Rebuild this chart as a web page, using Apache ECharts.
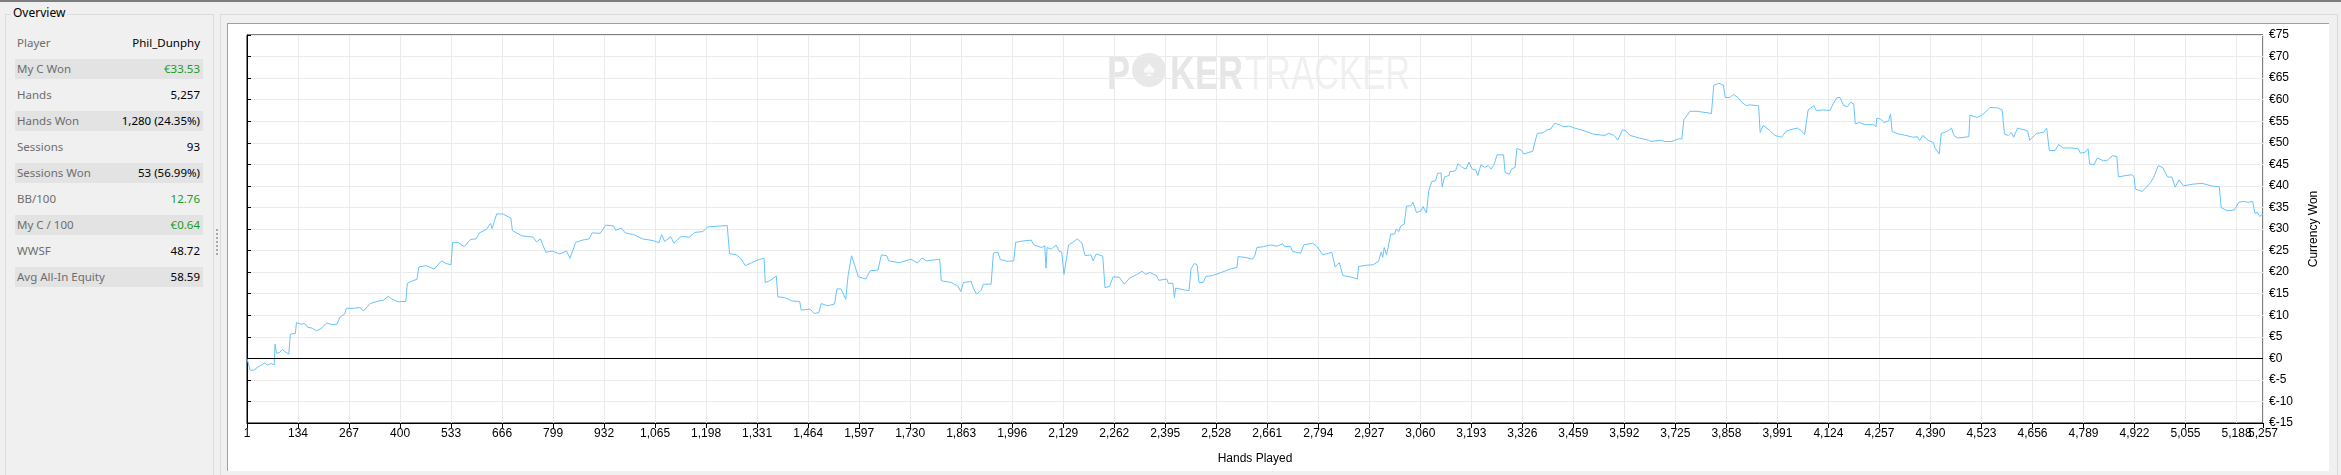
<!DOCTYPE html>
<html><head><meta charset="utf-8">
<script src="https://cdn.jsdelivr.net/npm/echarts@6/dist/echarts.min.js"></script>
<style>
html,body{margin:0;padding:0;width:2341px;height:475px;background:#f0f0f0;overflow:hidden;font-family:'Noto Sans',sans-serif;}
#topline{position:absolute;left:0;top:0;width:2341px;height:2px;background:#7d7d7d;}
#group{position:absolute;left:5px;top:14px;width:207px;height:470px;border:1px solid #dcdcdc;}
#grouptitle{position:absolute;left:11px;top:6px;font-size:12px;line-height:14px;color:#000;background:#f0f0f0;padding:0 2px;}
.row{position:absolute;left:15px;width:188px;height:20px;font-size:11.5px;line-height:20px;white-space:nowrap;}
.row.sh{background:#e3e3e3}
.row .l{position:absolute;left:2px;color:#6d6d6d}
.row .v{position:absolute;right:3px;color:#000}
.row .g{color:#1c9c1c}
#dots{position:absolute;left:216px;top:229px;width:0;height:26px;border-left:2px dotted #a8a8a8;}
#outer{position:absolute;left:220px;top:14px;width:2116px;height:470px;border:1px solid #dcdcdc;}
#panel{position:absolute;left:227px;top:23px;width:2101px;height:447px;background:#fff;border-top:1px solid #a0a0a0;border-left:1px solid #a0a0a0;}
#chart{position:absolute;left:0;top:0;width:2341px;height:475px;}
</style>
</head>
<body>
<div id="topline"></div>
<div id="group"></div>
<div id="grouptitle">Overview</div>
<div id="rows"></div>
<div id="dots"></div>
<div id="outer"></div>
<div id="panel"></div>
<div id="chart"></div>
<script>
// ---- overview panel data ----
const statLabels = ['Player','My C Won','Hands','Hands Won','Sessions','Sessions Won','BB/100','My C / 100','WWSF','Avg All-In Equity'];
const statValues = ['Phil_Dunphy','€33.53','5,257','1,280 (24.35%)','93','53 (56.99%)','12.76','€0.64','48.72','58.59'];
const statGreen  = [false,true,false,false,false,false,true,true,false,false];

// ---- chart data ----
const hands = [1,9,19,28,39,48,54,63,72,74,78,86,93,101,110,114,127,130,142,151,159,171,182,194,209,223,235,244,256,260,281,295,305,322,340,357,369,380,395,415,419,433,444,449,468,489,508,520,533,537,551,567,584,598,607,625,636,640,652,668,689,693,718,747,756,766,780,796,817,834,843,858,875,893,901,922,936,957,962,977,987,1009,1032,1061,1075,1082,1090,1106,1114,1133,1154,1168,1189,1203,1253,1259,1277,1288,1300,1317,1335,1349,1352,1364,1381,1385,1405,1422,1442,1446,1469,1480,1492,1498,1515,1533,1539,1550,1562,1568,1577,1585,1595,1614,1626,1646,1655,1669,1674,1702,1732,1749,1761,1772,1807,1811,1836,1854,1862,1869,1889,1895,1903,1914,1921,1941,1947,1959,1965,1982,2000,2005,2029,2046,2052,2073,2081,2084,2087,2098,2110,2119,2125,2131,2135,2143,2154,2166,2178,2186,2201,2207,2215,2232,2238,2250,2259,2275,2288,2302,2320,2335,2343,2355,2372,2378,2399,2403,2415,2419,2422,2448,2457,2462,2471,2478,2483,2494,2501,2518,2541,2564,2582,2585,2605,2622,2628,2634,2651,2669,2686,2701,2706,2721,2727,2748,2756,2779,2789,2806,2829,2838,2849,2858,2878,2896,2899,2919,2937,2951,2958,2962,2966,2972,2977,2983,2993,2997,3004,3009,3018,3024,3036,3041,3050,3062,3067,3076,3082,3090,3100,3105,3114,3117,3123,3135,3137,3152,3158,3169,3179,3187,3195,3204,3210,3218,3228,3237,3245,3253,3260,3277,3281,3292,3298,3307,3312,3323,3330,3344,3353,3358,3365,3379,3391,3400,3410,3422,3434,3446,3463,3487,3511,3541,3551,3565,3575,3587,3595,3607,3631,3655,3661,3687,3697,3715,3733,3742,3747,3763,3781,3805,3819,3825,3838,3850,3855,3867,3877,3888,3898,3910,3918,3942,3946,3954,3972,3984,4002,4014,4032,4044,4054,4062,4071,4086,4092,4110,4128,4136,4146,4154,4164,4174,4182,4190,4194,4206,4218,4242,4248,4250,4260,4269,4281,4286,4290,4308,4326,4344,4356,4362,4370,4385,4397,4403,4413,4418,4433,4445,4451,4461,4490,4493,4511,4523,4533,4538,4545,4565,4577,4583,4593,4601,4607,4617,4643,4649,4661,4667,4685,4693,4700,4715,4724,4736,4757,4775,4781,4793,4801,4805,4817,4825,4841,4852,4864,4876,4880,4900,4916,4921,4924,4942,4954,4964,4972,4984,4996,5008,5020,5028,5038,5050,5074,5098,5122,5143,5148,5164,5182,5194,5206,5218,5230,5236,5242,5248,5257];
const currencyWon = [0,-2.75,-2.75,-2.1,-1.5,-1.05,-1.6,-1.2,-1.5,3.3,1.2,1.35,2.1,1.5,0.96,5.6,5.8,8.3,7.9,8.1,7.2,7.0,6.4,6.9,8.2,7.8,7.9,9.6,10.3,11.6,11.6,11.8,11.0,12.7,13.2,13.5,14.4,13.7,13.1,13.2,17.4,18.0,18.3,21.2,21.5,20.7,22.6,22.0,21.7,26.9,26.9,25.9,27.6,27.7,29.1,29.9,31.3,30.1,33.5,33.5,32.5,29.6,28.4,28.1,27.0,27.7,24.6,24.9,24.2,24.9,23.2,26.9,27.4,27.7,29.1,29.0,30.9,30.7,29.7,30.2,29.1,28.7,27.7,27.3,26.8,28.7,27.1,28.2,26.7,28.3,28.1,29.2,29.4,30.5,30.8,24.3,24.0,23.2,21.5,22.2,22.9,23.2,17.6,18.0,19.1,14.3,14.0,13.3,13.2,11.2,11.4,10.4,10.6,12.7,12.2,12.6,16.1,16.1,13.7,19.1,23.8,21.7,18.9,18.4,20.3,20.5,24.0,23.8,22.6,22.2,23.0,22.1,23.3,22.6,23.0,18.0,17.6,16.8,15.5,17.6,17.8,16.2,14.9,15.7,17.2,17.2,24.4,24.6,22.9,22.5,22.6,26.9,27.3,27.4,26.3,25.7,26.1,20.9,25.7,25.3,26.3,24.8,24.7,19.5,19.5,26.3,26.9,27.7,26.7,23.8,24.0,22.6,24.2,23.7,16.4,16.7,18.9,18.8,17.2,18.6,19.4,20.2,19.5,19.9,19.2,18.1,18.4,17.4,17.4,14.0,16.3,15.8,15.7,20.7,22.0,21.7,17.6,17.6,19.0,19.2,19.9,20.7,21.1,23.6,23.4,23.0,23.7,25.7,25.9,26.3,26.0,26.6,25.9,26.0,24.8,24.4,26.3,26.7,26.1,24.0,24.6,21.2,22.2,19.2,18.9,18.4,21.3,21.6,21.7,22.5,24.7,23.4,25.7,24.0,23.6,28.8,28.8,30.0,29.4,30.7,31.1,35.3,35.4,36.2,33.8,34.2,35.2,33.7,38.9,41.0,41.2,42.9,43.0,39.7,42.1,42.4,43.3,43.5,45.2,44.3,43.9,45.5,43.9,43.7,42.4,44.9,44.3,44.7,43.9,45.1,47.2,47.2,43.1,42.7,43.9,44.3,48.7,48.3,47.4,47.8,48.0,49.9,52.2,52.3,53.0,53.2,54.5,54.2,53.7,53.9,53.4,52.8,52.0,51.7,52.2,51.7,50.6,53.0,52.8,51.7,51.1,50.6,50.3,50.6,50.3,50.3,50.9,50.9,55.3,57.3,57.3,57.0,56.8,63.3,63.8,63.4,60.5,60.5,61.2,60.5,59.4,58.6,58.8,58.6,52.4,54.0,52.8,51.7,51.3,52.7,53.2,53.4,52.7,51.9,57.6,58.6,57.5,57.6,57.5,59.0,60.5,60.5,58.6,58.4,59.4,59.0,54.4,54.7,54.2,54.2,53.7,55.7,55.5,54.7,55.1,56.7,52.6,52.0,51.7,51.3,51.4,50.5,51.7,50.5,50.1,48.6,47.4,52.2,52.6,53.4,51.7,51.1,51.4,56.4,55.9,56.3,57.1,56.7,58.2,58.1,57.6,52.0,51.7,52.4,51.3,53.4,52.8,50.6,51.7,52.2,52.4,53.4,48.2,48.2,49.6,48.8,48.8,48.6,47.6,47.8,48.6,45.1,44.9,46.5,45.8,46.0,47.0,46.8,42.1,42.4,42.6,42.0,39.3,38.7,39.8,40.8,42.0,44.7,44.2,42.1,42.0,39.7,41.4,40.0,40.4,40.6,40.0,39.8,35.0,34.2,34.4,36.2,36.4,36.2,36.4,33.6,33.9,32.9,33.53];
const firstHand = 1, lastHand = 5257, handStep = 133;
const yMin = -15, yMax = 75, yStep = 5;

// overview rows
const rowsEl = document.getElementById('rows');
statLabels.forEach((lab, i) => {
  const r = document.createElement('div');
  r.className = 'row' + (i % 2 === 1 ? ' sh' : '');
  r.style.top = (33 + i * 26) + 'px';
  const l = document.createElement('span'); l.className = 'l'; l.textContent = lab;
  const v = document.createElement('span'); v.className = 'v' + (statGreen[i] ? ' g' : ''); v.textContent = statValues[i];
  r.appendChild(l); r.appendChild(v); rowsEl.appendChild(r);
});

const span = lastHand - firstHand;
// every tick position (0-based hand offset), including the last hand
const tickOffsets = [];
for (let t = 0; t <= span; t += handStep) tickOffsets.push(t);
const lastRegular = tickOffsets[tickOffsets.length - 1];
tickOffsets.push(span);

const chart = echarts.init(document.getElementById('chart'), null, {renderer: 'canvas'});
const fontFam = "'Liberation Sans', Arial, sans-serif";
const xLabelFmt = v => (v + firstHand).toLocaleString('en-US');
const option = {
  animation: false,
  backgroundColor: 'transparent',
  graphic: [
    {type: 'text', left: 1107, top: 52, z: -10, scaleX: 0.72, style: {text: 'P', font: 'bold 48px ' + fontFam, fill: '#e6e6e6'}},
    {type: 'circle', shape: {cx: 1149, cy: 70, r: 17}, z: -10, style: {fill: '#e8e8e8'}},
    {type: 'text', x: 1149, y: 70, z: -9, style: {text: '♠', font: '22px ' + fontFam, fill: '#fafafa', align: 'center', verticalAlign: 'middle'}},
    {type: 'text', left: 1170, top: 52, z: -10, scaleX: 0.72, style: {text: 'KER', font: 'bold 48px ' + fontFam, fill: '#e6e6e6'}},
    {type: 'text', left: 1245, top: 52, z: -10, scaleX: 0.72, style: {text: 'TRACKER', font: '48px ' + fontFam, fill: '#f0f0f0'}}
  ],
  grid: {left: 247, top: 35, width: 2016, height: 388, show: true, borderColor: '#000', borderWidth: 1, backgroundColor: 'transparent'},
  xAxis: [{
    type: 'value', min: 0, max: span, interval: handStep, position: 'bottom',
    name: 'Hands Played', nameLocation: 'middle', nameGap: 30,
    nameTextStyle: {color: '#000', fontSize: 12, fontFamily: fontFam},
    axisLine: {show: true, onZero: false, lineStyle: {color: '#000', width: 1}},
    axisTick: {show: true, length: 5, lineStyle: {color: '#000'}},
    axisLabel: {show: true, showMinLabel: true, showMaxLabel: true, hideOverlap: false, margin: 5, color: '#000', fontSize: 12, fontFamily: fontFam,
      formatter: xLabelFmt},
    splitLine: {show: true, lineStyle: {color: '#ebebeb', width: 1}}
  }, {
    // overlay axis that only prints the label hidden by overlap with the last one
    type: 'value', min: 0, max: span, position: 'bottom', gridIndex: 0,
    axisLine: {show: false}, axisTick: {show: false}, splitLine: {show: false},
    axisLabel: {show: true, customValues: [lastRegular], showMinLabel: false, showMaxLabel: false, hideOverlap: false, margin: 5, color: '#000', fontSize: 12, fontFamily: fontFam,
      formatter: xLabelFmt}
  }],
  yAxis: {
    type: 'value', position: 'right', min: yMin, max: yMax, interval: yStep,
    name: 'Currency Won', nameLocation: 'middle', nameGap: 45, nameRotate: 90,
    nameTextStyle: {color: '#000', fontSize: 12, fontFamily: fontFam},
    axisLine: {show: true, lineStyle: {color: '#000', width: 1}},
    axisTick: {show: true, length: 4, lineStyle: {color: '#000'}},
    axisLabel: {show: true, showMinLabel: true, showMaxLabel: true, margin: 6, color: '#000', fontSize: 12, fontFamily: fontFam,
      formatter: v => '€' + v},
    splitLine: {show: true, lineStyle: {color: '#ebebeb', width: 1}}
  },
  series: [{
    type: 'line',
    xAxisIndex: 0,
    data: hands.map((h, i) => [h - firstHand, currencyWon[i]]),
    showSymbol: false, symbol: 'none',
    lineStyle: {color: '#66c3ff', width: 1},
    z: 3,
    markLine: {silent: true, symbol: 'none', label: {show: false}, animation: false,
      lineStyle: {color: '#000', width: 1, type: 'solid'}, data: [{yAxis: 0}]}
  }]
};
chart.setOption(option);
</script>
</body></html>
